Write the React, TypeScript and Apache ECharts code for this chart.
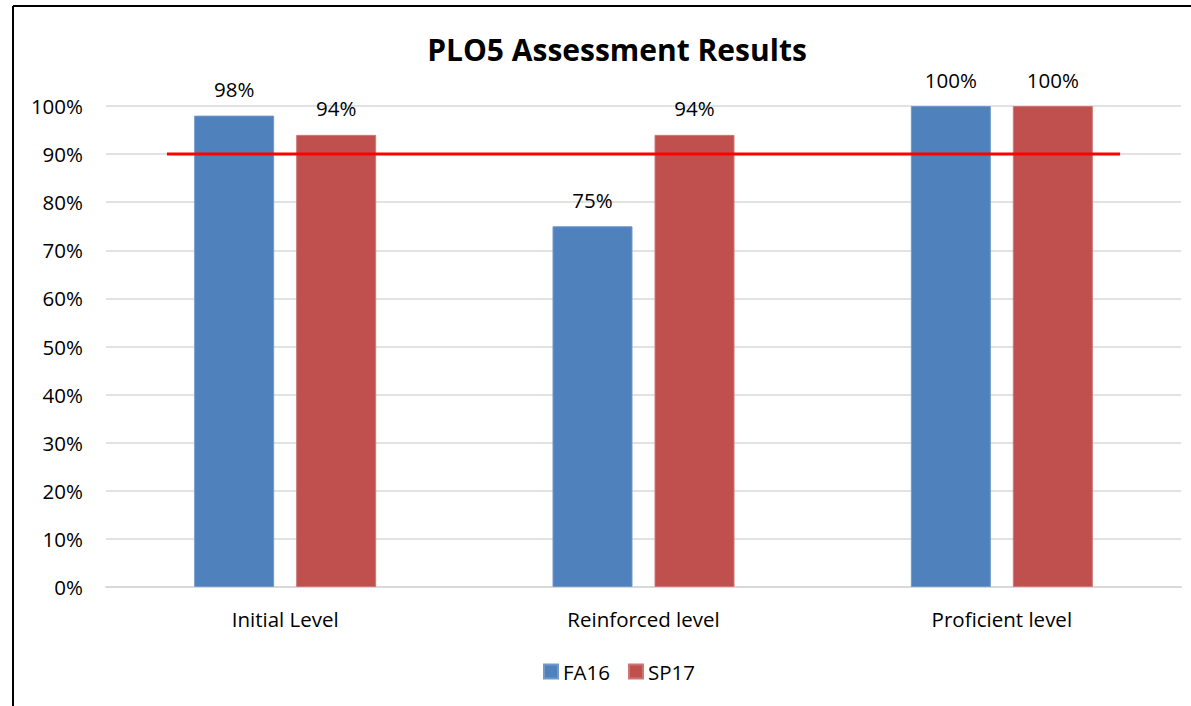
import React, { useEffect, useRef } from "react";
import * as echarts from "echarts";

const categories = ["Initial Level", "Reinforced level", "Proficient level"];
const fa16 = [98, 75, 100];
const sp17 = [94, 94, 100];
const targetLine = [[0.17, 90], [2.83, 90]];
const yTicks = { min: 0, max: 100, interval: 10 };

const FONT = "'Open Sans', 'Noto Sans', sans-serif";
const FS = 20.5;

export default function App() {
  const ref = useRef<HTMLDivElement>(null);
  useEffect(() => {
    document.body.style.margin = "0";
    const chart = echarts.init(ref.current!, undefined, { renderer: "svg" });
    chart.setOption({
      animation: false,
      backgroundColor: "#fff",
      textStyle: { fontFamily: FONT },
      title: {
        text: "PLO5 Assessment Results",
        left: 612,
        textAlign: "center",
        top: 29,
        textStyle: { fontFamily: FONT, fontSize: 30, fontWeight: "bold", color: "#000" },
      },
      legend: {
        data: ["FA16", "SP17"],
        bottom: 19,
        left: 538,
        itemWidth: 14,
        itemHeight: 14,
        itemGap: 18,
        icon: "rect",
        textStyle: { fontFamily: FONT, fontSize: FS, color: "#000" },
      },
      grid: { left: 106, right: 10, top: 106, bottom: 119, containLabel: false },
      xAxis: [
        {
          type: "category",
          data: categories,
          axisTick: { show: false },
          axisLine: { lineStyle: { color: "#d9d9d9", width: 2 } },
          axisLabel: { fontFamily: FONT, fontSize: FS, color: "#000", margin: 21 },
        },
        {
          type: "value",
          min: 0,
          max: 3,
          show: false,
        },
      ],
      yAxis: {
        type: "value",
        min: yTicks.min,
        max: yTicks.max,
        interval: yTicks.interval,
        axisLine: { show: false },
        axisTick: { show: false },
        splitLine: { lineStyle: { color: "#d9d9d9", width: 1.5 } },
        axisLabel: { formatter: "{value}%", fontFamily: FONT, fontSize: FS, color: "#000", margin: 23 },
      },
      series: [
        {
          name: "FA16",
          type: "bar",
          data: fa16,
          barWidth: 80,
          barGap: "27.5%",
          itemStyle: { color: "#4f81bd", borderColor: "#7399c9", borderWidth: 1 },
          label: { show: true, position: "top", distance: 16, formatter: "{c}%", fontFamily: FONT, fontSize: FS, color: "#000" },
        },
        {
          name: "SP17",
          type: "bar",
          data: sp17,
          barWidth: 80,
          itemStyle: { color: "#c0504d", borderColor: "#cd7775", borderWidth: 1 },
          label: { show: true, position: "top", distance: 16, formatter: "{c}%", fontFamily: FONT, fontSize: FS, color: "#000" },
        },
        {
          name: "Target",
          type: "line",
          xAxisIndex: 1,
          data: targetLine,
          symbol: "none",
          lineStyle: { color: "#ff0000", width: 3 },
          z: 5,
        },
      ],
      graphic: [
        { type: "line", shape: { x1: 13, y1: 6, x2: 13, y2: 706 }, style: { stroke: "#000", lineWidth: 2 } },
        { type: "line", shape: { x1: 13, y1: 6, x2: 1191, y2: 6 }, style: { stroke: "#000", lineWidth: 2 } },
      ],
    });
    return () => chart.dispose();
  }, []);
  return <div ref={ref} style={{ position: "absolute", left: 0, top: 0, width: 1191, height: 706 }} />;
}
